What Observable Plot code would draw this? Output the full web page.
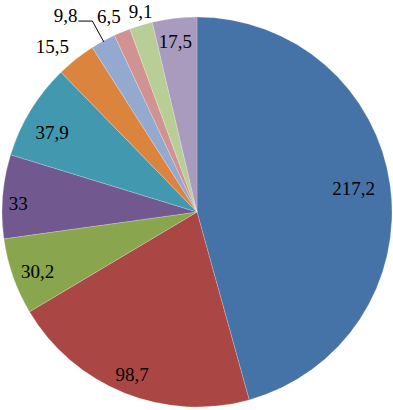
<!DOCTYPE html>
<html><head><meta charset="utf-8">
<script src="https://cdn.jsdelivr.net/npm/d3@7"></script>
<script src="https://cdn.jsdelivr.net/npm/@observablehq/plot@0.6"></script>
<style>
body{margin:0;background:#fff}
#chart svg text{font-family:"Liberation Serif","DejaVu Serif","Times New Roman",serif !important;}
</style>
</head><body><div id="chart"></div>
<script>
const categories = ["A","B","C","D","E","F","G","H","I","J"];
const values = [217.2, 98.7, 30.2, 33, 37.9, 15.5, 9.8, 6.5, 9.1, 17.5];
const colors = ["#4572A7","#AA4643","#89A54E","#71588F","#4198AF","#DB843D","#93A9CF","#D19392","#B9CD96","#A99BBD"];
// layout: label distance from centre (fraction of radius; null = leader line) and angle nudge (degrees)
const labelRadius = [0.81, 0.90, 0.875, 0.92, 0.85, 1.13, null, 1.1, 1.07, 0.88];
const labelNudge = [-0.9, 0, -1.2, -1.7, -2.8, -2.8, 0, -1.8, 0.9, -0.8];

const W = 393, H = 410, cx = 197, cy = 212, R = 195;
const arcs = d3.pie().sort(null).value(d => d)(values);
const fmt = v => String(v).replace(".", ",");
const FONT = "Liberation Serif, DejaVu Serif, serif";

const pt = (a, k) => ({x: k * Math.sin(a), y: k * Math.cos(a)});
const labels = [], leader = [];
arcs.forEach((a, i) => {
  const mid = (a.startAngle + a.endAngle) / 2 + labelNudge[i] * Math.PI / 180;
  if (labelRadius[i] != null) {
    const p = pt(mid, labelRadius[i]);
    labels.push({...p, text: fmt(values[i]), anchor: "middle"});
  } else {
    const p0 = pt(mid, 1.0), p1 = pt(mid, 1.12);
    const p2 = {x: p1.x - 0.07, y: p1.y};
    leader.push(p0, p1, p2);
    labels.push({x: p2.x - 0.006, y: p2.y + 0.025, text: fmt(values[i]), anchor: "end"});
  }
});

const sliceMark = (index, scales) => {
  const g = d3.create("svg:g");
  const x0 = scales.x(0), y0 = scales.y(0);
  const r = scales.x(1) - scales.x(0);
  const arc = d3.arc().innerRadius(0).outerRadius(r);
  g.selectAll("path").data(arcs).join("path")
    .attr("transform", `translate(${x0},${y0})`)
    .attr("d", arc)
    .attr("fill", (d, i) => colors[i])
    .attr("stroke", "#ffffff").attr("stroke-opacity", 0.35).attr("stroke-width", 0.6);
  return g.node();
};

const chart = Plot.plot({
  width: W, height: H,
  margin: 0,
  x: {domain: [-1, 1], range: [cx - R, cx + R], axis: null},
  y: {domain: [-1, 1], range: [cy + R, cy - R], axis: null},
  style: {background: "#fff"},
  marks: [
    sliceMark,
    Plot.line(leader, {x: "x", y: "y", stroke: "#000", strokeWidth: 1}),
    Plot.text(labels.filter(d => d.anchor === "middle"), {x: "x", y: "y", text: "text", fontSize: 19, fontFamily: FONT, fill: "#000", textAnchor: "middle"}),
    Plot.text(labels.filter(d => d.anchor === "end"), {x: "x", y: "y", text: "text", fontSize: 19, fontFamily: FONT, fill: "#000", textAnchor: "end"})
  ]
});
document.getElementById("chart").append(chart);
</script>
</body></html>
